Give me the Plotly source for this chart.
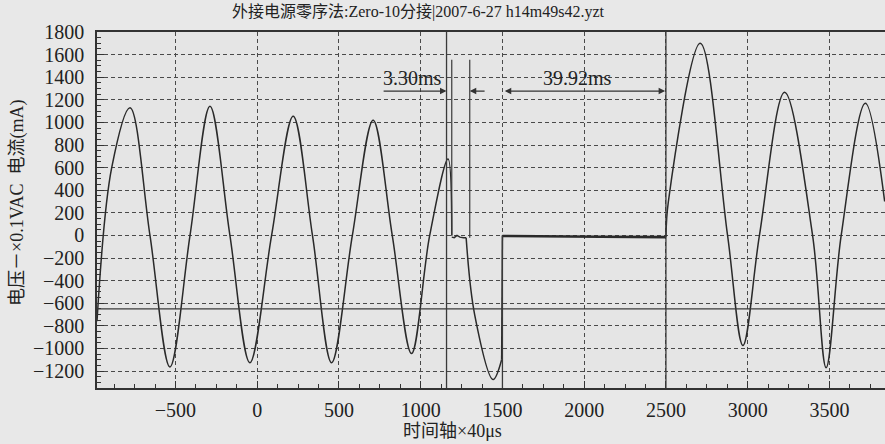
import plotly.graph_objects as go

# ---- data (time axis units x 40us, value) ----
pre_t = [-980, -890, -778, -656, -534, -411, -289, -167, -45, 88, 220, 338, 455, 582, 709, 826, 944, 1055, 1167, 1190]
pre_v = [-760, 600, 1130, 0, -1164, 0, 1142, 0, -1126, 0, 1055, 0, -1126, 0, 1020, 0, -1045, 0, 676, 0]

gap_t = [1190, 1205, 1222, 1240, 1262, 1278]
gap_v = [-15, -20, 0, -15, -20, -20]

fall_t = [1278, 1330, 1443, 1495]
fall_v = [-20, -700, -1275, -1100]

jump_t = [1495, 1500]
jump_v = [-1100, 0]

flat_t = [1500, 1800, 2100, 2500]
flat_v = [-5, -10, -12, -15]

post_t = [2500, 2515, 2710, 2877, 2971, 3072, 3226, 3397, 3480, 3572, 3720, 3838]
post_v = [-15, 300, 1700, 0, -973, 0, 1266, 0, -1170, 0, 1170, 300]

x_ticks = [-500, 0, 500, 1000, 1500, 2000, 2500, 3000, 3500]
y_ticks = [-1200, -1000, -800, -600, -400, -200, 0, 200, 400, 600, 800, 1000, 1200, 1400, 1600, 1800]

title_text = "外接电源零序法:Zero-10分接|2007-6-27 h14m49s42.yzt"
x_title = "时间轴×40μs"
y_title = "电压－×0.1VAC  电流(mA)"
label_a = "3.30ms"
label_b = "39.92ms"

LINE = "#2a2a2a"
FONT = "'Liberation Serif', 'Times New Roman', 'DejaVu Serif', serif"
CJK = "'Liberation Serif', 'Noto Sans CJK SC', serif"

fig = go.Figure()
for tx, ty, shape, w in [(pre_t, pre_v, "spline", 1.5), (gap_t, gap_v, "linear", 1.5),
                         (fall_t, fall_v, "spline", 1.5), (jump_t, jump_v, "linear", 1.5),
                         (flat_t, flat_v, "linear", 2.6), (post_t, post_v, "spline", 1.5)]:
    fig.add_trace(go.Scatter(x=tx, y=ty, mode="lines",
                             line=dict(color=LINE, width=w, shape=shape, smoothing=1.0),
                             showlegend=False, hoverinfo="skip"))

XMIN, XMAX = -980, 3840
YMIN, YMAX = -1350, 1800

shapes = [
    dict(type="line", xref="x", yref="y", x0=XMIN, x1=XMAX, y0=-650, y1=-650, line=dict(color="#3a3a3a", width=1.3)),
    dict(type="line", xref="x", yref="y", x0=1158, x1=1158, y0=YMIN, y1=YMAX, line=dict(color="#3a3a3a", width=1.3)),
    dict(type="line", xref="x", yref="y", x0=1190, x1=1190, y0=0, y1=1554, line=dict(color="#3a3a3a", width=1.2)),
    dict(type="line", xref="x", yref="y", x0=1300, x1=1300, y0=-20, y1=1554, line=dict(color="#3a3a3a", width=1.2)),
    dict(type="line", xref="x", yref="y", x0=1500, x1=1500, y0=YMIN, y1=0, line=dict(color="#3a3a3a", width=1.3)),
    dict(type="line", xref="x", yref="y", x0=2500, x1=2500, y0=YMIN, y1=YMAX, line=dict(color="#3a3a3a", width=1.3)),
]

annotations = [
    dict(text=title_text, xref="paper", yref="paper", x=0.408, y=1.0, yshift=9,
         xanchor="center", yanchor="bottom", showarrow=False, font=dict(family=CJK, size=16, color="#222")),
    dict(text=x_title, xref="paper", yref="paper", x=0.451, y=0, yshift=-55,
         xanchor="center", yanchor="bottom", showarrow=False, font=dict(family=CJK, size=18, color="#222")),
    dict(text=y_title, xref="paper", yref="paper", x=0, xshift=-79, y=0.52,
         xanchor="center", yanchor="middle", textangle=-90, showarrow=False,
         font=dict(family=CJK, size=18, color="#222")),
    dict(text=label_a, xref="x", yref="y", x=760, y=1395, xanchor="left", yanchor="middle",
         showarrow=False, font=dict(family=FONT, size=20, color="#222")),
    dict(text=label_b, xref="x", yref="y", x=1962, y=1395, xanchor="center", yanchor="middle",
         showarrow=False, font=dict(family=FONT, size=20, color="#222")),
    dict(text="", xref="x", yref="y", axref="x", ayref="y", x=1158, y=1277, ax=764, ay=1277,
         showarrow=True, arrowhead=2, arrowsize=1, arrowwidth=1.3, arrowcolor="#333"),
    dict(text="", xref="x", yref="y", axref="x", ayref="y", x=1300, y=1277, ax=1400, ay=1277,
         showarrow=True, arrowhead=2, arrowsize=1, arrowwidth=1.3, arrowcolor="#333"),
    dict(text="", xref="x", yref="y", axref="x", ayref="y", x=2495, y=1277, ax=1505, ay=1277,
         showarrow=True, arrowhead=2, arrowside="end+start", arrowsize=1, arrowwidth=1.3, arrowcolor="#333"),
]

axis_common = dict(showline=True, linecolor="#333", linewidth=1.5, mirror=True, automargin=False,
                   showgrid=True, gridcolor="#4a4a4a", gridwidth=1, griddash="4px,3px",
                   ticks="inside", ticklen=7, tickcolor="#333", zeroline=False,
                   tickfont=dict(family=FONT, size=20, color="#222"))

fig.update_layout(
    width=885, height=444,
    margin=dict(l=97, r=0, t=32, b=56),
    paper_bgcolor="#e8e8e8", plot_bgcolor="#e5e5e5",
    xaxis=dict(range=[XMIN, XMAX], tickvals=x_ticks, **axis_common, ticklabelstandoff=3,
               minor=dict(dtick=125, ticks="inside", ticklen=4, tickcolor="#333", showgrid=False)),
    yaxis=dict(range=[YMIN, YMAX], tickvals=y_ticks, **axis_common, ticklabelstandoff=7,
               minor=dict(dtick=50, ticks="inside", ticklen=4, tickcolor="#333", showgrid=False)),
    shapes=shapes, annotations=annotations,
)

fig.write_html("out.html", config={"displayModeBar": False},
               post_script="document.body.style.margin='0';document.body.style.background='#e8e8e8';")
